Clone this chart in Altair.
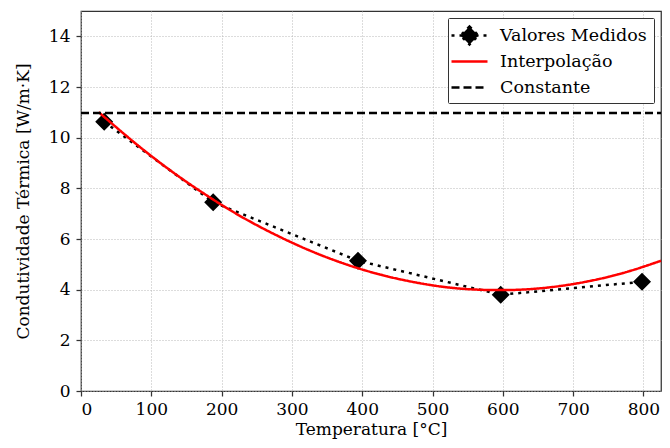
import altair as alt
import pandas as pd

# ---- data ----
serie_names = ["Valores Medidos", "Interpolação", "Constante"]

temp_medidos = [33, 188, 394, 597, 798]
k_medidos = [10.63, 7.45, 5.14, 3.80, 4.31]

temp_interp = [25, 75, 125, 175, 225, 275, 325, 375, 425, 475, 525, 575, 625, 675, 725, 775, 825]
k_interp = [11.01, 9.83, 8.75, 7.79, 6.93, 6.19, 5.55, 5.02, 4.60, 4.29, 4.08, 3.99, 4.00, 4.12, 4.35, 4.69, 5.14]

temp_const = [0, 825]
k_const = [10.97, 10.97]

x_ticks = [0, 100, 200, 300, 400, 500, 600, 700, 800]
y_ticks = [0, 2, 4, 6, 8, 10, 12, 14]

# ---- tables ----
df_med = pd.DataFrame({"T": temp_medidos, "k": k_medidos, "serie": serie_names[0]})
df_int = pd.DataFrame({"T": temp_interp, "k": k_interp, "serie": serie_names[1]})
df_con = pd.DataFrame({"T": temp_const, "k": k_const, "serie": serie_names[2]})

FONT = "DejaVu Serif"
line_path = "M-2,0H2"
diamond_path = "M-2,0H2M0,-1L1,0L0,1L-1,0Z"

x_enc = alt.X("T:Q", scale=alt.Scale(domain=[0, 825], nice=False, zero=False),
              axis=alt.Axis(values=x_ticks, title="Temperatura [°C]", format="d"))
y_enc = alt.Y("k:Q", scale=alt.Scale(domain=[0, 15], nice=False),
              axis=alt.Axis(values=y_ticks, title="Condutividade Térmica [W/m·K]", format="d"))

color_enc = alt.Color("serie:N", scale=alt.Scale(domain=serie_names, range=["black", "red", "black"]),
                      legend=alt.Legend(title=None))
dash_enc = alt.StrokeDash("serie:N", scale=alt.Scale(domain=serie_names, range=[[3, 5], [1, 0], [8, 4]]),
                          legend=alt.Legend(title=None))
shape_enc = alt.Shape("serie:N", scale=alt.Scale(domain=serie_names, range=[diamond_path, line_path, line_path]),
                      legend=alt.Legend(title=None))

med_line = alt.Chart(df_med).mark_line(strokeWidth=2.5).encode(
    x=x_enc, y=y_enc, color=color_enc, strokeDash=dash_enc)

med_pts = alt.Chart(df_med).mark_point(filled=True, opacity=1, size=324, color="black").encode(
    x=x_enc, y=y_enc, shape=shape_enc)

int_line = alt.Chart(df_int).mark_line(strokeWidth=2.5, interpolate="natural").encode(
    x=x_enc, y=y_enc, color=color_enc, strokeDash=dash_enc)

con_line = alt.Chart(df_con).mark_line(strokeWidth=2.5).encode(
    x=x_enc, y=y_enc, color=color_enc, strokeDash=dash_enc)

chart = alt.layer(med_line, med_pts, int_line, con_line).properties(
    width=580, height=380,
    autosize=alt.AutoSizeParams(type="none"),
    padding={"left": 73, "top": 3, "right": 1, "bottom": 49},
).configure_view(
    stroke="#333333", strokeWidth=1.25
).configure_axis(
    labelFont=FONT, labelFontSize=17, labelColor="black",
    titleFont=FONT, titleFontSize=17, titleFontWeight="normal", titleColor="black",
    grid=True, gridColor="#b0b0b0", gridDash=[1, 2], gridWidth=0.9,
    domain=False, tickColor="#333333", tickWidth=1.25, tickSize=5,
    labelPadding=5
).configure_axisY(
    titlePadding=16, labelPadding=6
).configure_axisX(
    titlePadding=4, labelPadding=5
).configure_legend(
    orient="top-right", offset=7, padding=7,
    strokeColor="#333333", fillColor="white", cornerRadius=1,
    labelFont=FONT, labelFontSize=17.5, labelColor="black",
    symbolSize=324, symbolStrokeWidth=2.5, symbolFillColor="black",
    symbolOffset=4, labelOffset=20, rowPadding=1, symbolOpacity=1, gridAlign="all"
)

chart.save("out.html", embed_options={"renderer": "svg", "actions": False})
